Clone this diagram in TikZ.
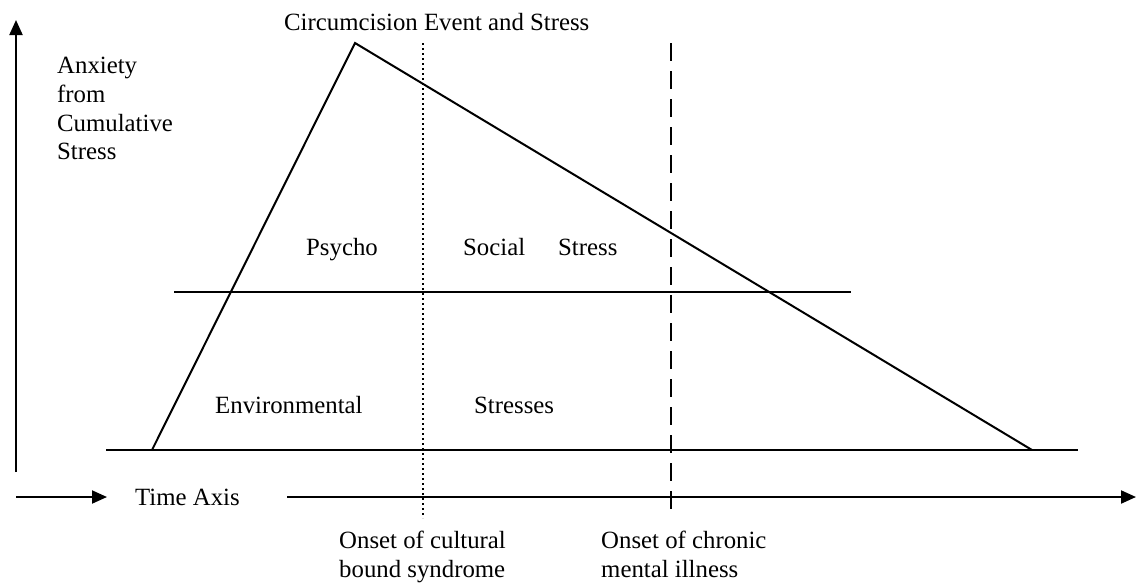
\documentclass[tikz,border=0pt]{standalone}
\usepackage{fontspec}
\setmainfont{Liberation Serif}
\usetikzlibrary{arrows.meta}
\begin{document}
\begin{tikzpicture}[x=1pt,y=-1pt,
  ln/.style={line width=2pt},
  arr/.style={line width=2pt,-{Triangle[length=15pt,width=13pt]}},
  lbl/.style={anchor=base west,inner sep=0pt,font=\fontsize{24.8pt}{28.7pt}\selectfont},
  dotline/.style={line width=2pt,dash pattern=on 2pt off 3pt},
  dashline/.style={line width=2pt,dash pattern=on 18pt off 10pt}]
\useasboundingbox (0,0) rectangle (1139,584);
% axes
\coordinate (yb) at (16,472);
\coordinate (yt) at (16,20);
\draw[arr] (yb) -- (yt);
\coordinate (t0) at (16,497);
\coordinate (t1) at (107,497);
\draw[arr] (t0) -- (t1);
\coordinate (t2) at (287,497);
\coordinate (t3) at (1136,497);
\draw[arr] (t2) -- (t3);
% horizontal levels
\coordinate (b0) at (106,450);
\coordinate (b1) at (1078,450);
\draw[ln] (b0) -- (b1);
\coordinate (m0) at (174,292);
\coordinate (m1) at (851,292);
\draw[ln] (m0) -- (m1);
% triangle
\coordinate (tl) at (152,450);
\coordinate (ta) at (355,43);
\coordinate (tr) at (1032,450);
\draw[ln,line join=miter] (tl) -- (ta) -- (tr);
% onset lines
\coordinate (d0) at (422.5,43);
\coordinate (d1) at (422.5,518);
\draw[dotline] (d0) -- (d1);
\coordinate (e0) at (671,43);
\coordinate (e1) at (671,518);
\draw[dashline] (e0) -- (e1);
% labels
\node[lbl] (title) at (284,30) {Circumcision Event and Stress};
\node[lbl,align=left,anchor=north west] (yl) at (57,57) {Anxiety\\from\\Cumulative\\Stress};
\node[lbl] (time) at (135,505) {Time Axis};
\node[lbl] (psy) at (306,255) {Psycho};
\node[lbl] (soc) at (463,255) {Social};
\node[lbl] (str) at (558,255) {Stress};
\node[lbl] (env) at (215,413) {Environmental};
\node[lbl] (strs) at (474,413) {Stresses};
\node[lbl] (oc1) at (339,548) {Onset of cultural};
\node[lbl] (oc2) at (339,577) {bound syndrome};
\node[lbl] (om1) at (601,548) {Onset of chronic};
\node[lbl] (om2) at (601,577) {mental illness};
\end{tikzpicture}
\end{document}
